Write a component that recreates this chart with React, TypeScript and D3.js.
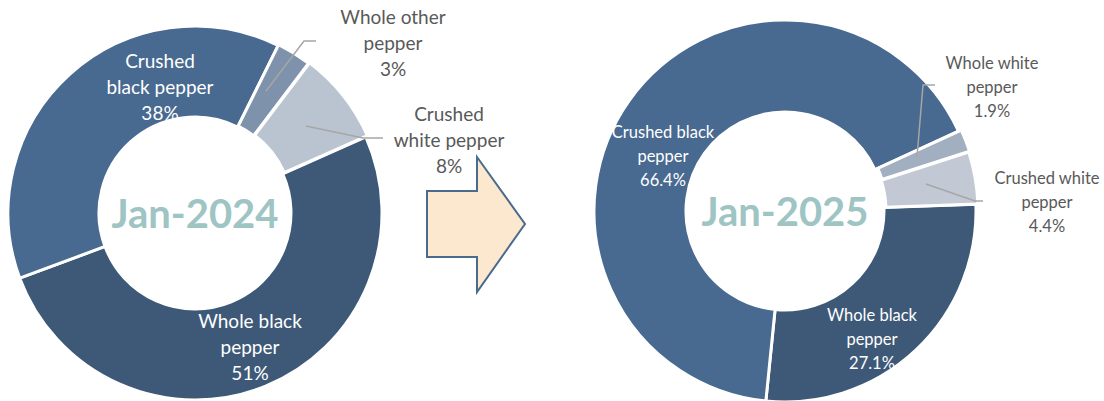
import React from "react";
import * as d3 from "d3";

const LEFT_TITLE = "Jan-2024";
const LEFT_CATEGORIES = ["Whole black pepper", "Crushed black pepper", "Whole other pepper", "Crushed white pepper"];
const LEFT_VALUES = [51, 38, 3, 8];
const LEFT_LABEL_LINES = [["Whole black", "pepper"], ["Crushed", "black pepper"], ["Whole other", "pepper"], ["Crushed", "white pepper"]];

const RIGHT_TITLE = "Jan-2025";
const RIGHT_CATEGORIES = ["Whole black pepper", "Crushed black pepper", "Whole white pepper", "Crushed white pepper"];
const RIGHT_VALUES = [27.1, 66.4, 1.9, 4.4];
const RIGHT_LABEL_LINES = [["Whole black", "pepper"], ["Crushed black", "pepper"], ["Whole white", "pepper"], ["Crushed white", "pepper"]];

type LabelLayout = { x: number; y: number; inside: boolean; leader?: [number, number][] };

type DonutConfig = {
  title: string;
  categories: string[];
  values: number[];
  labelLines: string[][];
  decimals: number;
  cx: number;
  cy: number;
  outer: number;
  inner: number;
  startDeg: number;
  colors: string[];
  explode: number[];
  fontSize: number;
  lineHeight: number;
  titleSize: number;
  labels: LabelLayout[];
};

const FONT = "Lato, 'Open Sans', sans-serif";

const charts: DonutConfig[] = [
  {
    title: LEFT_TITLE,
    categories: LEFT_CATEGORIES,
    values: LEFT_VALUES,
    labelLines: LEFT_LABEL_LINES,
    decimals: 0,
    cx: 195,
    cy: 213,
    outer: 187,
    inner: 96,
    startDeg: 66,
    colors: ["#3D5977", "#486990", "#7E92AB", "#BAC4D1"],
    explode: [0, 0, 1, 2],
    fontSize: 19,
    lineHeight: 26,
    titleSize: 40,
    labels: [
      { x: 250, y: 320, inside: true },
      { x: 160, y: 60, inside: true },
      { x: 393, y: 16, inside: false, leader: [[316, 41], [304, 41], [266, 91]] },
      { x: 449, y: 113, inside: false, leader: [[383, 138], [363, 138], [306, 126]] },
    ],
  },
  {
    title: RIGHT_TITLE,
    categories: RIGHT_CATEGORIES,
    values: RIGHT_VALUES,
    labelLines: RIGHT_LABEL_LINES,
    decimals: 1,
    cx: 785,
    cy: 211,
    outer: 191,
    inner: 99,
    startDeg: 88,
    colors: ["#3D5977", "#486990", "#A1AFC1", "#C2C9D5"],
    explode: [0, 0, 3, 2],
    fontSize: 16.5,
    lineHeight: 24,
    titleSize: 40,
    labels: [
      { x: 872, y: 315, inside: true },
      { x: 663, y: 132, inside: true },
      { x: 992, y: 63, inside: false, leader: [[935, 85], [923, 85], [917, 157]] },
      { x: 1047, y: 178, inside: false, leader: [[983, 201], [975, 201], [926, 184]] },
    ],
  },
];

const ARROW: [number, number][] = [
  [427, 191], [477, 191], [477, 157], [525, 224], [477, 292], [477, 257], [427, 257],
];

function Donut({ c }: { c: DonutConfig }) {
  const total = d3.sum(c.values);
  const start = (c.startDeg * Math.PI) / 180;
  const pie = d3
    .pie<number>()
    .sort(null)
    .value((d) => d)
    .startAngle(start)
    .endAngle(start + 2 * Math.PI);
  const arcs = pie(c.values);
  const arc = d3.arc<d3.PieArcDatum<number>>().innerRadius(c.inner).outerRadius(c.outer);
  const fmt = (v: number) => (c.decimals === 0 ? `${Math.round((v / total) * 100)}%` : `${v.toFixed(c.decimals)}%`);
  return (
    <g>
      <g transform={`translate(${c.cx},${c.cy})`}>
        {arcs.map((a, i) => {
          const mid = (a.startAngle + a.endAngle) / 2;
          const dx = Math.sin(mid) * c.explode[i];
          const dy = -Math.cos(mid) * c.explode[i];
          return (
            <path
              key={c.categories[i]}
              d={arc(a) || ""}
              transform={`translate(${dx},${dy})`}
              fill={c.colors[i]}
              stroke="#ffffff"
              strokeWidth={3}
              strokeLinejoin="miter"
            />
          );
        })}
      </g>
      {c.labels.map((l, i) =>
        l.leader ? (
          <polyline
            key={"ld" + i}
            points={l.leader.map((p) => p.join(",")).join(" ")}
            fill="none"
            stroke="#A6A6A6"
            strokeWidth={1.5}
          />
        ) : null
      )}
      {c.labels.map((l, i) => {
        const lines = [...c.labelLines[i], fmt(c.values[i])];
        return (
          <text
            key={"lb" + i}
            x={l.x}
            y={l.y}
            textAnchor="middle"
            fontFamily={FONT}
            fontSize={c.fontSize}
            fill={l.inside ? "#FFFFFF" : "#595959"}
          >
            {lines.map((t, k) => (
              <tspan key={k} x={l.x} y={l.y + k * c.lineHeight} dominantBaseline="central">
                {t}
              </tspan>
            ))}
          </text>
        );
      })}
      <text
        x={c.cx}
        y={c.cy}
        textAnchor="middle"
        dominantBaseline="central"
        fontFamily={FONT}
        fontWeight="bold"
        fontSize={c.titleSize}
        fill="#9EC4C3"
      >
        {c.title}
      </text>
    </g>
  );
}

export default function App() {
  return (
    <svg width={1104} height={401} style={{ position: "absolute", left: 0, top: 0, background: "#fff" }}>
      <rect x={0} y={0} width={1104} height={401} fill="#ffffff" />
      <polygon
        points={ARROW.map((p) => p.join(",")).join(" ")}
        fill="#FCE8CF"
        stroke="#4A6B8E"
        strokeWidth={2}
        strokeLinejoin="miter"
      />
      {charts.map((c) => (
        <Donut key={c.title} c={c} />
      ))}
    </svg>
  );
}
